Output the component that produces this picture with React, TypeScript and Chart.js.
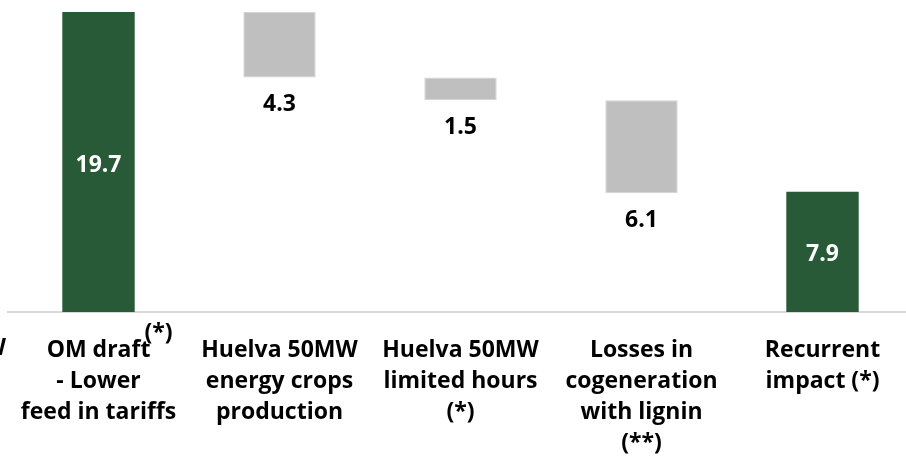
import React, { useEffect, useRef } from "react";
import { Chart, registerables } from "chart.js";

Chart.register(...registerables);

const categories: string[][] = [
  ["OM draft", "- Lower", "feed in tariffs"],
  ["Huelva 50MW", "energy crops", "production"],
  ["Huelva 50MW", "limited hours", "(*)"],
  ["Losses in", "cogeneration", "with lignin", "(**)"],
  ["Recurrent", "impact (*)"],
];
const changes = [19.7, -4.3, -1.5, -6.1, 7.9];
const isTotal = [true, false, false, false, true];
const valueLabels = ["19.7", "4.3", "1.5", "6.1", "7.9"];
const footnoteMark = "(*)";
const clippedLeftLabel = "50MW";

const GREEN = "#285a37";
const GREY = "#bfbfbf";
const FONT = "'Open Sans', Lato, sans-serif";
const FSIZE = 23;

function buildRanges(): [number, number][] {
  let running = 0;
  return changes.map((v, i) => {
    if (isTotal[i]) {
      running = v;
      return [0, v];
    }
    const start = running;
    const end = running + v;
    running = end;
    return [Math.min(start, end), Math.max(start, end)];
  });
}

const labelPlugin = {
  id: "wfLabels",
  afterDatasetsDraw(chart: any) {
    const ctx = chart.ctx;
    const meta = chart.getDatasetMeta(0);
    ctx.save();
    ctx.font = `bold ${FSIZE}px ${FONT}`;
    ctx.textAlign = "center";
    ctx.textBaseline = "middle";
    meta.data.forEach((el: any, i: number) => {
      const top = Math.min(el.y, el.base);
      const bottom = Math.max(el.y, el.base);
      if (isTotal[i]) {
        ctx.fillStyle = "#ffffff";
        ctx.fillText(valueLabels[i], el.x, (top + bottom) / 2 + 3);
      } else {
        ctx.fillStyle = "#000000";
        ctx.fillText(valueLabels[i], el.x, bottom + 27);
      }
    });
    // stray footnote mark and clipped neighbour label from the source slide
    const xs = chart.scales.x;
    ctx.fillStyle = "#000000";
    ctx.fillText(footnoteMark, xs.getPixelForValue(0) + 60, 333);
    ctx.textAlign = "right";
    ctx.fillText(clippedLeftLabel, 6, 348);
    ctx.restore();
  },
};

export default function App() {
  const ref = useRef<HTMLCanvasElement | null>(null);
  useEffect(() => {
    if (!ref.current) return;
    const ranges = buildRanges();
    const chart = new Chart(ref.current, {
      type: "bar",
      data: {
        labels: categories,
        datasets: [
          {
            data: ranges as any,
            backgroundColor: isTotal.map((t) => (t ? GREEN : GREY)),
            borderColor: isTotal.map((t) => (t ? GREEN : "#d4d4d4")),
            borderWidth: isTotal.map((t) => (t ? 0 : 1)),
            borderSkipped: false,
            categoryPercentage: 1,
            barPercentage: 0.4,
          },
        ],
      },
      options: {
        responsive: false,
        animation: false,
        layout: { padding: { top: 12, left: 8, right: 1, bottom: 0 } },
        plugins: {
          legend: { display: false },
          tooltip: { enabled: false },
        },
        scales: {
          x: {
            type: "category",
            offset: true,
            grid: { display: false, drawTicks: false },
            border: { display: true, color: "#d9d9d9", width: 2 },
            ticks: {
              color: "#000000",
              font: { family: FONT, size: FSIZE, weight: "bold", lineHeight: "31px" } as any,
              padding: 23,
              maxRotation: 0,
              minRotation: 0,
              autoSkip: false,
            },
            afterFit: (s: any) => {
              s.height = 144;
              s.paddingLeft = 0;
              s.paddingRight = 0;
            },
          },
          y: {
            display: false,
            min: 0,
            max: 19.7,
          },
        },
      },
      plugins: [labelPlugin],
    });
    return () => chart.destroy();
  }, []);
  return (
    <div
      style={{
        position: "absolute",
        left: 0,
        top: 0,
        width: 906,
        height: 456,
        overflow: "hidden",
        background: "#ffffff",
      }}
    >
      <canvas ref={ref} width={914} height={456} style={{ width: 914, height: 456, display: "block" }} />
    </div>
  );
}
